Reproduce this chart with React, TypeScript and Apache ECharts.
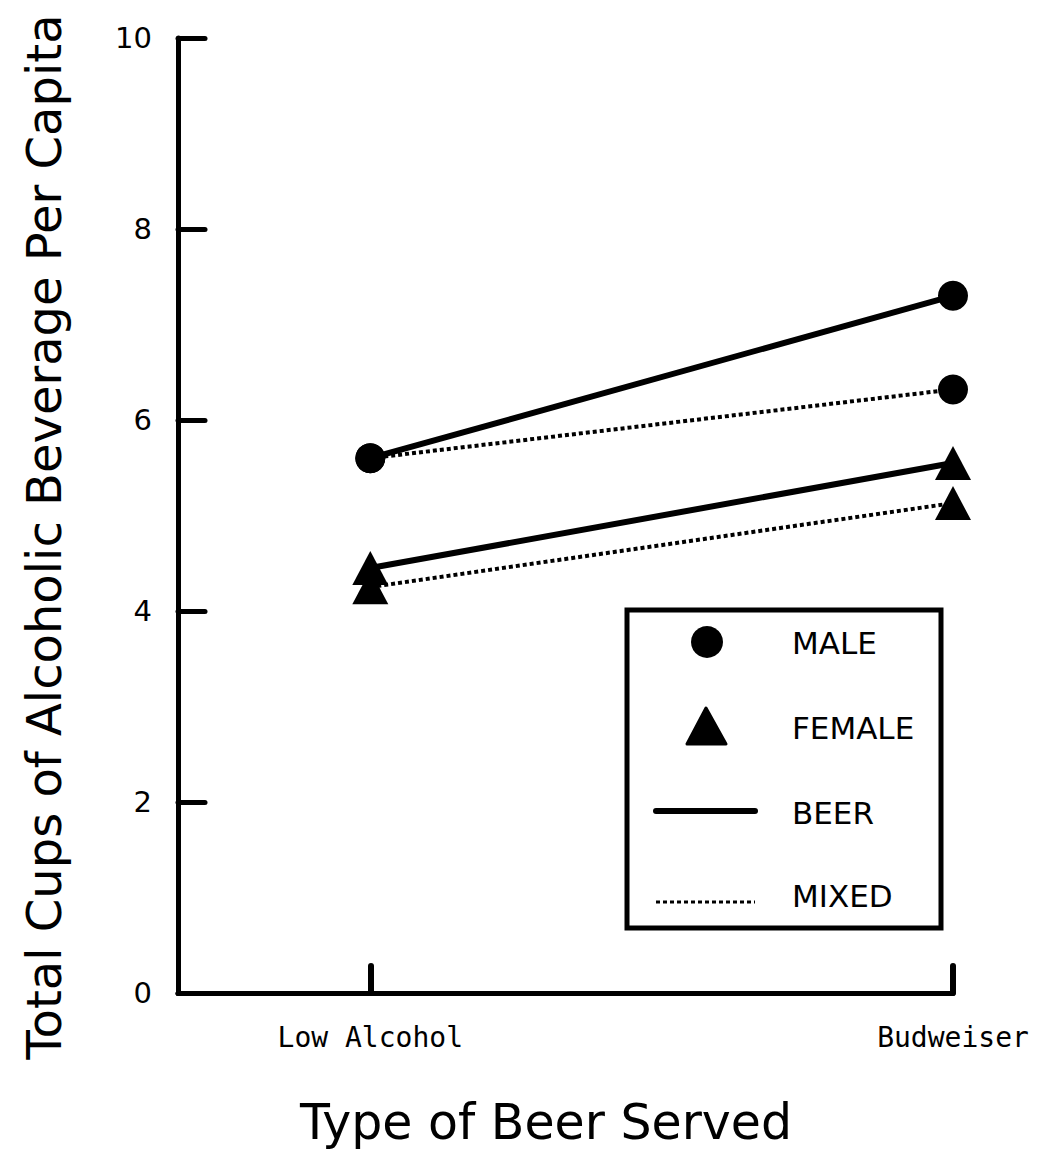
import React, { useEffect, useRef } from "react";
import * as echarts from "echarts";

const categories = ["Low Alcohol", "Budweiser"];
const maleBeer = [5.6, 7.3];
const maleMixed = [5.6, 6.32];
const femaleBeer = [4.45, 5.55];
const femaleMixed = [4.25, 5.13];
const yTicks = [0, 2, 4, 6, 8, 10];
const legendItems = ["MALE", "FEMALE", "BEER", "MIXED"];

const FONT = "DejaVu Sans";
const MONO = "DejaVu Sans Mono";

export default function App() {
  const ref = useRef<HTMLDivElement>(null);
  useEffect(() => {
    if (!ref.current) return;
    const chart = echarts.init(ref.current, null, { renderer: "svg" });
    const pts = (vals: number[]) => vals.map((v, i) => [i, v]);
    const mk = (name: string, vals: number[], symbol: string, dotted: boolean) => ({
      name,
      type: "line",
      data: pts(vals),
      symbol,
      symbolSize: symbol === "circle" ? 30 : [36, 34],
      itemStyle: { color: "#000" },
      lineStyle: dotted
        ? { color: "#000", width: 4, type: [4, 3] }
        : { color: "#000", width: 6, type: "solid" },
      z: dotted ? 2 : 3,
    });
    const lx = 627, ly = 610, lw = 314, lh = 318;
    chart.setOption({
      animation: false,
      backgroundColor: "#fff",
      grid: { left: 178, right: 96, top: 38, bottom: 161 },
      xAxis: {
        type: "value",
        min: -0.33,
        max: 1,
        splitLine: { show: false },
        axisLine: { onZero: false, lineStyle: { color: "#000", width: 5 } },
        axisTick: {
          inside: true,
          length: 27,
          lineStyle: { color: "#000", width: 6, cap: "round" },
          customValues: [0, 1],
        },
        axisLabel: {
          customValues: [0, 1],
          formatter: (v: number) => categories[Math.round(v)] ?? "",
          color: "#000",
          fontFamily: MONO,
          fontSize: 28,
          margin: 30,
        },
      },
      yAxis: {
        type: "value",
        min: 0,
        max: 10,
        interval: 2,
        splitLine: { show: false },
        axisLine: { show: true, onZero: false, lineStyle: { color: "#000", width: 5 } },
        axisTick: {
          inside: true,
          length: 27,
          lineStyle: { color: "#000", width: 5, cap: "round" },
        },
        axisLabel: {
          formatter: (v: number) => (yTicks.includes(v) ? String(v) : ""),
          color: "#000",
          fontFamily: FONT,
          fontSize: 29,
          margin: 26,
        },
      },
      series: [
        mk("MALE BEER", maleBeer, "circle", false),
        mk("MALE MIXED", maleMixed, "circle", true),
        mk("FEMALE BEER", femaleBeer, "triangle", false),
        mk("FEMALE MIXED", femaleMixed, "triangle", true),
      ],
      graphic: [
        {
          type: "text",
          x: 546,
          y: 1122,
          style: {
            text: "Type of Beer Served",
            font: `49px ${FONT}`,
            fill: "#000",
            align: "center",
            verticalAlign: "middle",
          },
        },
        {
          type: "text",
          x: 44,
          y: 537,
          rotation: Math.PI / 2,
          style: {
            text: "Total Cups of Alcoholic Beverage Per Capita",
            font: `48px ${FONT}`,
            fill: "#000",
            align: "center",
            verticalAlign: "middle",
          },
        },
        {
          type: "rect",
          shape: { x: lx, y: ly, width: lw, height: lh },
          style: { fill: "#fff", stroke: "#000", lineWidth: 5 },
          z: 10,
        },
        {
          type: "circle",
          shape: { cx: 707, cy: 642, r: 16 },
          style: { fill: "#000" },
          z: 11,
        },
        {
          type: "polygon",
          shape: { points: [[706, 708], [726, 744], [687, 744]] },
          style: { fill: "#000", stroke: "#000", lineWidth: 3, lineJoin: "round" },
          z: 11,
        },
        {
          type: "line",
          shape: { x1: 656, y1: 811, x2: 755, y2: 811 },
          style: { stroke: "#000", lineWidth: 6, lineCap: "round" },
          z: 11,
        },
        {
          type: "line",
          shape: { x1: 656, y1: 902, x2: 755, y2: 902 },
          style: { stroke: "#000", lineWidth: 3, lineDash: [4, 3] },
          z: 11,
        },
        ...legendItems.map((t, i) => ({
          type: "text",
          x: 792,
          y: [643, 728, 813, 896][i],
          z: 11,
          style: {
            text: t,
            font: `31px ${FONT}`,
            fill: "#000",
            align: "left",
            verticalAlign: "middle",
          },
        })),
      ],
    });
    return () => chart.dispose();
  }, []);
  return (
    <div
      ref={ref}
      style={{ position: "absolute", left: 0, top: 0, width: 1049, height: 1154, background: "#fff" }}
    />
  );
}
